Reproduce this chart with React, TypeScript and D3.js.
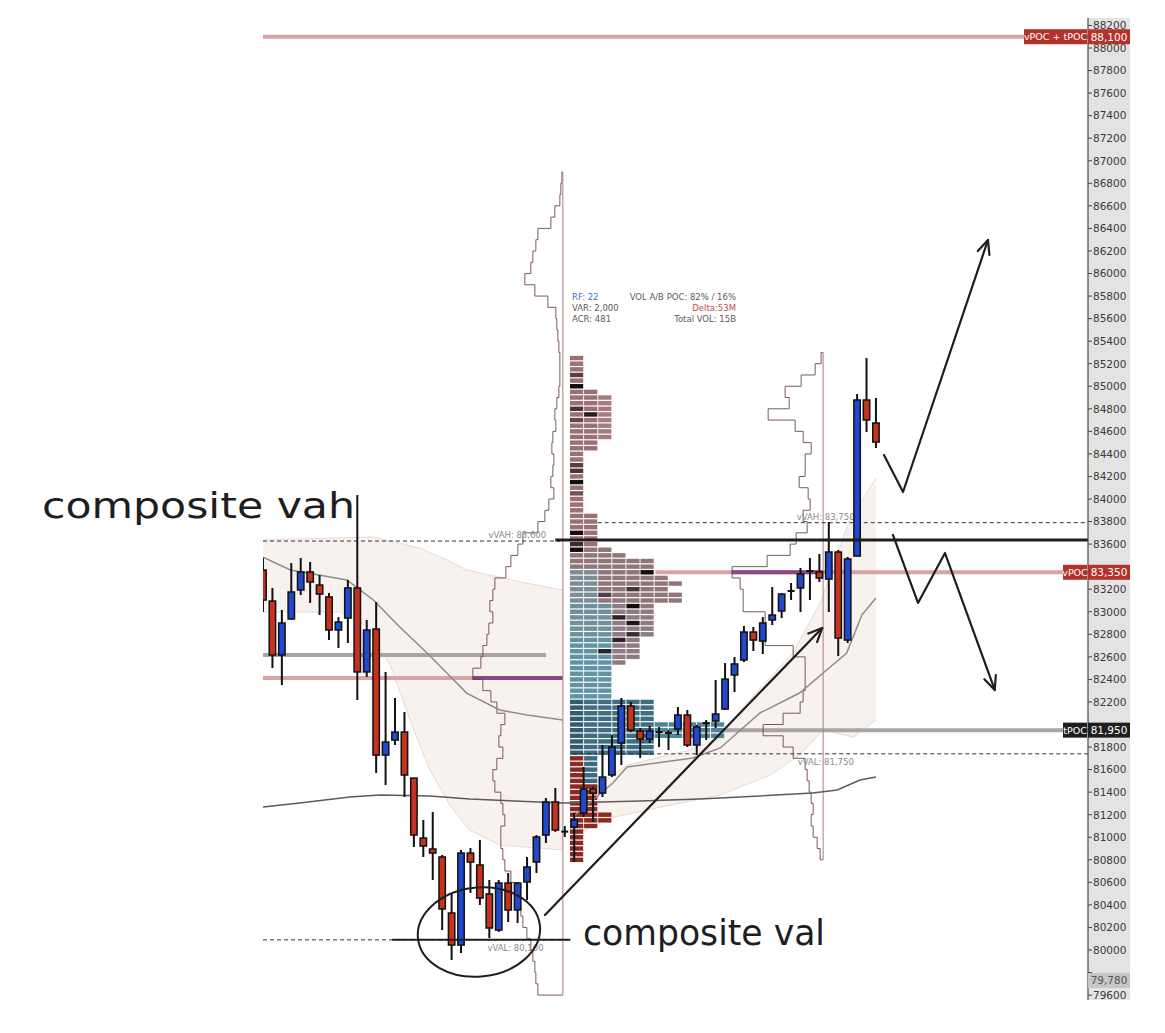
import React from "react";
import * as d3 from "d3";

// ---------- DATA ----------
const opens = [83370,83095,82616,82936,83193,83353,83237,83131,82838,82944,83211,82466,82847,81729,81862,81933,81525,80993,80896,80825,80328,80044,80860,80754,80497,80177,80594,80355,80603,80780,81020,81313,81050,81091,81215,81428,81392,81552,81836,82164,81942,81871,81933,81925,81960,82084,81818,82013,82031,82137,82439,82572,82820,82740,82927,83007,83184,83211,83361,83353,83290,83530,82749,83494,84878,84674];
const highs = [83477,83211,83015,83432,83477,83441,83326,83166,82953,83282,84035,82927,83086,82466,82235,82111,81525,81153,81224,80843,80506,80887,80905,80976,80621,80621,80683,80603,80825,81020,81348,81437,81100,81215,81623,81446,81818,81907,82235,82200,81969,81987,81978,81951,82155,82129,81996,82040,82395,82545,82599,82874,82865,82953,83219,83166,83255,83388,83477,83512,83796,83548,83486,84931,85250,84896];
const lows = [82998,82501,82350,82927,83148,83078,82971,82749,82678,82723,82217,82421,81570,81463,81818,81357,80914,80825,80621,80177,79911,79973,80506,80399,80106,80160,80248,80239,80443,80683,80949,81047,81002,80780,81180,81135,81357,81534,81641,81933,81703,81836,81800,81774,81907,81800,81729,81862,81969,82129,82288,82554,82652,82625,82882,82944,83104,82998,83104,83264,82998,82607,82723,83494,84594,84452];
const closes = [83104,82616,82900,83175,83353,83264,83157,82838,82909,83211,82466,82838,81729,81845,81933,81552,81020,80922,80860,80364,80044,80860,80780,80461,80195,80594,80355,80594,80736,81002,81313,81064,81050,81153,81428,81392,81534,81800,82164,81951,81871,81942,81933,81925,82084,81818,81978,82013,82093,82403,82537,82820,82749,82900,82971,83157,83184,83335,83361,83299,83530,82767,83468,84878,84701,84505];

const yTickValues = d3.range(79600, 88201, 200);

// volume profile of session 1 (bins of 100, top bin centre 86850)
const profile1Top = 86850;
const profile1Volumes = [1,2,3,8,12,25,27,30,32,38,28,15,7,6,5,4,3,3,3,4,6,8,7,10,11,9,10,12,9,14,18,25,40,45,52,57,68,70,73,70,74,76,80,82,90,80,72,66,58,62,64,60,66,70,68,62,60,58,62,62,60,58,52,48,45,42,40,36,32,30,28,27,25];
// volume profile of session 2
const profile2Top = 85250;
const profile2Volumes = [2,8,22,38,34,55,28,20,12,18,18,24,15,13,20,16,27,33,56,91,83,80,80,58,58,58,30,18,18,18,20,23,40,60,40,30,18,16,14,12,10,12,10,6,3];

// composite histogram (bins of 50, top row 85250): number of cells per row
const histTop = 85250;
const histCounts = [1,1,1,1,1,1,2,3,3,3,3,3,3,3,3,2,2,1,1,1,1,1,1,1,1,1,1,1,2,2,2,2,2,2,3,4,6,6,6,7,8,7,8,8,6,6,6,6,6,6,5,5,5,5,4,3,3,3,3,3,3,6,6,6,6,11,11,11,6,6,6,2,2,2,2,2,2,2,2,2,2,3,3,2,1,1,1,1,1,1];
const darkCells = [[3,0,0.5],[5,0,1],[9,0,0.6],[10,1,0.85],[11,0,0.4],[19,0,0.5],[20,0,0.6],[22,0,1],[24,0,0.3],[31,0,1],[33,0,0.7],[34,0,1],[38,5,1],[41,4,0.6],[44,4,1],[46,3,0.8],[47,4,0.9],[49,4,0.7],[50,3,0.8],[52,2,0.8],[42,2,0.5]];

// session boundaries (candle index)
const sessionEdges = [31.8, 59.4];

// VWAP & bands: [candle index, price]
const upper1 = [[0,83636],[11.7,83663],[16.6,83565],[19.5,83459],[21.6,83370],[27.3,83264],[31.8,83193]];
const vwap1 = [[0,83485],[2.9,83370],[8.9,83282],[11.7,83104],[14.5,82865],[17.4,82634],[19.5,82457],[21.6,82279],[25.1,82129],[28.0,82084],[31.8,82040]];
const lower1 = [[0,82998],[8.2,82998],[10.8,82883],[13.5,82528],[15.6,82040],[17.7,81596],[19.8,81286],[21.9,81064],[25.1,80931],[31.8,80887]];
const upper2 = [[32.8,81197],[35.7,81463],[38.6,81641],[45.3,81774],[48.5,81880],[51.3,82191],[56.2,82634],[59.1,83078],[62.2,83814],[65.0,84186]];
const vwap2 = [[33.1,81197],[37.1,81481],[38.6,81623],[45.6,81703],[48.5,81792],[52.7,82102],[56.9,82279],[59.4,82457],[61.9,82634],[63.5,82971],[65.0,83122]];
const lower2 = [[33.1,81020],[36.8,81171],[43.2,81286],[48.5,81375],[53.8,81552],[56.9,81729],[59.4,81951],[62.6,81889],[65.0,82040]];
const weeklyVwap = [[0,81268],[3.9,81304],[9.2,81357],[12.4,81375],[17.7,81366],[21.9,81339],[31.8,81304],[40.0,81321],[46.3,81339],[52.7,81366],[58.3,81392],[60.9,81420],[63.3,81508],[65.0,81534]];

// key levels: price, from index, to index (null = to axis), kind
const levelSegments = [
  { price: 88100, from: 0, to: null, kind: "pink" },
  { price: 82616, from: 0, to: 30.0, kind: "gray" },
  { price: 82412, from: 0, to: 22.2, kind: "pink" },
  { price: 82412, from: 22.2, to: 31.8, kind: "purple" },
  { price: 83350, from: 41.6, to: null, kind: "pink" },
  { price: 83350, from: 49.7, to: 59.4, kind: "purple" },
  { price: 81950, from: 48.5, to: null, kind: "gray" },
];
const dashedLevels = [
  { price: 83627, from: 0, to: 31.5, label: "vVAH: 83,600", labelIdx: 23.9, above: true },
  { price: 80090, from: 0, to: 32.6, label: "vVAL: 80,100", labelIdx: 23.8, above: false },
  { price: 83790, from: 35.5, to: null, label: "vVAH: 83,750", labelIdx: 56.6, above: true },
  { price: 81740, from: 32.9, to: null, label: "vVAL: 81,750", labelIdx: 56.7, above: false },
];
const axisTags = [
  { price: 88100, text: "88,100", name: "vPOC + tPOC", color: "#b3322b", textColor: "#fff" },
  { price: 83350, text: "83,350", name: "vPOC", color: "#b3322b", textColor: "#fff" },
  { price: 81950, text: "81,950", name: "tPOC", color: "#1f1f1f", textColor: "#fff" },
  { price: 79730, text: "79,780", name: null, color: "#c6c6c6", textColor: "#555" },
];
const infoLeft = [{ t: "RF: 22", c: "#3d6fd6" }, { t: "VAR: 2,000", c: "#5a5a5a" }, { t: "ACR: 481", c: "#5a5a5a" }];
const infoRight = [{ t: "VOL A/B POC: 82% / 16%", c: "#5a5a5a" }, { t: "Delta:53M", c: "#c0504d" }, { t: "Total VOL: 15B", c: "#5a5a5a" }];

// hand-drawn annotations
const compositeVah = { price: 83636, from: 31.0 };
const compositeVal = { price: 80090, from: 13.7, to: 32.6 };
const arrowPaths = [
  [[29.9, 80310], [59.3, 82856]],
  [[65.85, 84390], [67.87, 84062], [76.88, 86297]],
  [[66.8, 83681], [69.46, 83078], [72.32, 83521], [77.6, 82306]],
];
const ellipseAnno = { idx: 22.9, price: 80160, idxR: 6.5, priceR: 395 };
const handTexts = [
  { text: "composite vah", x: 42, y: 518, len: 313 },
  { text: "composite val", x: 583, y: 945, len: 242 },
];

// ---------- SCALES ----------
const W = 1165, H = 1033;
const PLOT_L = 263, AXIS_X = 1088, AXIS_R = 1130;
const y = d3.scaleLinear().domain([80000, 88000]).range([950, 48]);
const x = d3.scaleLinear().domain([0, 65]).range([263, 263 + 65 * 9.43]);
const histCol = d3.scaleLinear().domain([0, 1]).range([570, 584.1]);
const volW = d3.scaleLinear().domain([0, 100]).range([0, 100]);

const pink = "#d6a4a4", purple = "#854785", grayLvl = "#a6a6a6";
const lvlColor = (k) => (k === "pink" ? pink : k === "purple" ? purple : grayLvl);

function cellColor(r, c) {
  if (r >= 71) return c === 1 && r <= 75 ? "#3c6c80" : "#8a2a20";
  if (r >= 61) return c >= 6 ? "#4f8597" : c === 0 ? "#2f5e71" : "#3e6e82";
  if (r >= 44) return c <= 2 ? (r >= 50 ? "#6093a3" : "#6e909d") : "#8d7b81";
  if (r >= 34) return c <= 1 && r >= 38 ? "#7d8c96" : "#907579";
  return c === 2 ? "#a77b7e" : "#9b6f73";
}

const lineGen = d3.line().x((d) => x(d[0])).y((d) => y(d[1]));

function profilePath(top, vols, step, edgeIdx) {
  const ex = x(edgeIdx);
  let p = `M${ex},${y(top + step / 2)}`;
  vols.forEach((v, i) => {
    const c = top - i * step;
    const w = volW(v);
    p += `L${ex - w},${y(c + step / 2)}L${ex - w},${y(c - step / 2)}`;
  });
  p += `L${ex},${y(top - (vols.length - 1) * step - step / 2)}`;
  return p;
}

function bandArea(up, lo) {
  const pts = [...up, ...lo.slice().reverse()];
  return lineGen(pts) + "Z";
}

function arrowHead(a, b) {
  const [x1, y1] = [x(a[0]), y(a[1])];
  const [x2, y2] = [x(b[0]), y(b[1])];
  const ang = Math.atan2(y2 - y1, x2 - x1);
  const L = 15, s = 0.42;
  return `M${x2 - L * Math.cos(ang - s)},${y2 - L * Math.sin(ang - s)}L${x2},${y2}L${x2 - L * Math.cos(ang + s)},${y2 - L * Math.sin(ang + s)}`;
}

export default function App() {
  const darkMap = new Map(darkCells.map((d) => [d[0] + "_" + d[1], d[2]]));
  const rowH = y(histTop) - y(histTop + 50);
  const cells = [];
  histCounts.forEach((n, r) => {
    const price = histTop - r * 50;
    for (let c = 0; c < n; c++) {
      const k = darkMap.get(r + "_" + c);
      let col = cellColor(r, c);
      if (k !== undefined) col = d3.interpolateRgb(col, "#140c0e")(k);
      cells.push(
        <rect key={r + "_" + c} x={histCol(c)} y={y(price + 25) + 0.6} width={13.2} height={rowH - 1.2} fill={col} />
      );
    }
  });

  const candles = opens.map((o, i) => {
    const c = closes[i];
    const cx = x(i);
    const up = c > o;
    const doji = Math.abs(c - o) < 1;
    const top = y(Math.max(o, c)), bot = y(Math.min(o, c));
    return (
      <g key={i}>
        <line x1={cx} x2={cx} y1={y(highs[i])} y2={y(lows[i])} stroke="#111" strokeWidth={2} />
        {doji ? (
          <line x1={cx - 3.5} x2={cx + 3.5} y1={top} y2={top} stroke="#111" strokeWidth={2} />
        ) : (
          <rect x={cx - 3.2} y={top} width={6.4} height={Math.max(bot - top, 1.5)} fill={up ? "#2149cf" : "#c5321d"} stroke="#111" strokeWidth={1.5} />
        )}
      </g>
    );
  });

  const xEnd = (to) => (to === null ? AXIS_X : x(to));
  const tagYs = axisTags.map((t) => y(t.price));
  const visibleTicks = yTickValues.filter((v) => tagYs.every((ty) => Math.abs(y(v) - ty) > 11));

  return (
    <svg width={W} height={H} style={{ position: "absolute", left: 0, top: 0, background: "#fff" }} fontFamily="DejaVu Sans, sans-serif">
      <defs>
        <clipPath id="plot"><rect x={PLOT_L} y={0} width={AXIS_X - PLOT_L} height={H} /></clipPath>
        <clipPath id="axisClip"><rect x={AXIS_X} y={18} width={AXIS_R - AXIS_X + 2} height={982} /></clipPath>
      </defs>
      <rect width={W} height={H} fill="#fff" />

      <g clipPath="url(#plot)">
        {/* bands */}
        <path d={bandArea(upper1, lower1)} fill="#f8f2ef" />
        <path d={bandArea(upper2, lower2)} fill="#f8f2ef" />
        {[upper1, lower1, upper2, lower2].map((b, i) => (
          <path key={i} d={lineGen(b)} fill="none" stroke="#e6d9d5" strokeWidth={1} />
        ))}

        {/* key levels */}
        {levelSegments.map((l, i) => (
          <line key={i} x1={x(l.from)} x2={xEnd(l.to)} y1={y(l.price)} y2={y(l.price)} stroke={lvlColor(l.kind)} strokeWidth={4} />
        ))}

        {/* volume profiles */}
        <path d={profilePath(profile1Top, profile1Volumes, 100, sessionEdges[0])} fill="none" stroke="#6e4646" strokeWidth={0.9} />
        <path d={profilePath(profile2Top, profile2Volumes, 100, sessionEdges[1])} fill="none" stroke="#6e4646" strokeWidth={0.9} />
        <line x1={x(sessionEdges[0])} x2={x(sessionEdges[0])} y1={y(profile1Top + 50)} y2={y(profile1Top - (profile1Volumes.length - 1) * 100 - 50)} stroke="#a88080" strokeWidth={1} />
        <line x1={x(sessionEdges[1])} x2={x(sessionEdges[1])} y1={y(profile2Top + 50)} y2={y(profile2Top - (profile2Volumes.length - 1) * 100 - 50)} stroke="#a88080" strokeWidth={1} />

        {/* histogram */}
        {cells}

        {/* vwap lines */}
        <path d={lineGen(weeklyVwap)} fill="none" stroke="#5b5b5b" strokeWidth={1.5} />
        <path d={lineGen(vwap1)} fill="none" stroke="#8c8c8c" strokeWidth={1.5} />
        <path d={lineGen(vwap2)} fill="none" stroke="#8c8c8c" strokeWidth={1.5} />

        {/* dashed value-area lines */}
        {dashedLevels.map((d, i) => (
          <g key={i}>
            <line x1={x(d.from)} x2={xEnd(d.to)} y1={y(d.price)} y2={y(d.price)} stroke="#333" strokeWidth={1} strokeDasharray="4,3" />
            <text x={x(d.labelIdx)} y={y(d.price) + (d.above ? -3 : 11)} fontSize={8.5} fill="#8a8a8a">{d.label}</text>
          </g>
        ))}

        {/* candles */}
        {candles}

        {/* composite lines */}
        <line x1={x(compositeVah.from)} x2={AXIS_X} y1={y(compositeVah.price)} y2={y(compositeVah.price)} stroke="#1e1e1e" strokeWidth={3} />
        <line x1={x(compositeVal.from)} x2={x(compositeVal.to)} y1={y(compositeVal.price)} y2={y(compositeVal.price)} stroke="#1e1e1e" strokeWidth={2} />
      </g>

      {/* annotations */}
      {arrowPaths.map((p, i) => (
        <g key={i} fill="none" stroke="#1e1e1e" strokeWidth={2.2} strokeLinecap="round" strokeLinejoin="round">
          <path d={lineGen(p)} />
          <path d={arrowHead(p[p.length - 2], p[p.length - 1])} />
        </g>
      ))}
      <ellipse
        cx={x(ellipseAnno.idx)}
        cy={y(ellipseAnno.price)}
        rx={x(ellipseAnno.idx + ellipseAnno.idxR) - x(ellipseAnno.idx)}
        ry={y(ellipseAnno.price - ellipseAnno.priceR) - y(ellipseAnno.price)}
        transform={`rotate(-6 ${x(ellipseAnno.idx)} ${y(ellipseAnno.price)})`}
        fill="none" stroke="#1e1e1e" strokeWidth={2}
      />

      {/* axis */}
      <rect x={AXIS_X} y={18} width={AXIS_R - AXIS_X} height={982} fill="#e3e3e3" />
      <g clipPath="url(#axisClip)">
        {yTickValues.map((v) => (
          <line key={"t" + v} x1={AXIS_X} x2={AXIS_X + 4} y1={y(v)} y2={y(v)} stroke="#444" strokeWidth={1} />
        ))}
        {visibleTicks.map((v) => (
          <text key={v} x={AXIS_X + 5} y={y(v) + 3.8} fontSize={10.5} fill="#3a3a3a">{v}</text>
        ))}
      </g>
      <line x1={AXIS_X} x2={AXIS_X} y1={18} y2={1000} stroke="#4a4a4a" strokeWidth={1.2} />

      {axisTags.map((t, i) => (
        <g key={i}>
          <rect x={AXIS_X} y={y(t.price) - 7.5} width={AXIS_R - AXIS_X} height={15} fill={t.color} />
          <text x={AXIS_X + 21} y={y(t.price) + 3.8} fontSize={10.5} fill={t.textColor} textAnchor="middle">{t.text}</text>
          {t.name && (
            <g>
              <rect x={AXIS_X - (t.name.length > 5 ? 64 : 25)} y={y(t.price) - 7.5} width={t.name.length > 5 ? 63 : 24} height={15} fill={t.color} />
              <text x={AXIS_X - (t.name.length > 5 ? 32.5 : 13)} y={y(t.price) + 3.5} fontSize={9.5} fill={t.textColor} textAnchor="middle">{t.name}</text>
            </g>
          )}
        </g>
      ))}

      {/* info block */}
      {infoLeft.map((d, i) => (
        <text key={"l" + i} x={572} y={300 + i * 11} fontSize={8.5} fill={d.c}>{d.t}</text>
      ))}
      {infoRight.map((d, i) => (
        <text key={"r" + i} x={736} y={300 + i * 11} fontSize={8.5} fill={d.c} textAnchor="end">{d.t}</text>
      ))}

      {/* hand-written labels */}
      {handTexts.map((t, i) => (
        <text key={i} x={t.x} y={t.y} fontSize={36} fill="#1e1e1e" textLength={t.len} lengthAdjust="spacingAndGlyphs">{t.text}</text>
      ))}
    </svg>
  );
}
